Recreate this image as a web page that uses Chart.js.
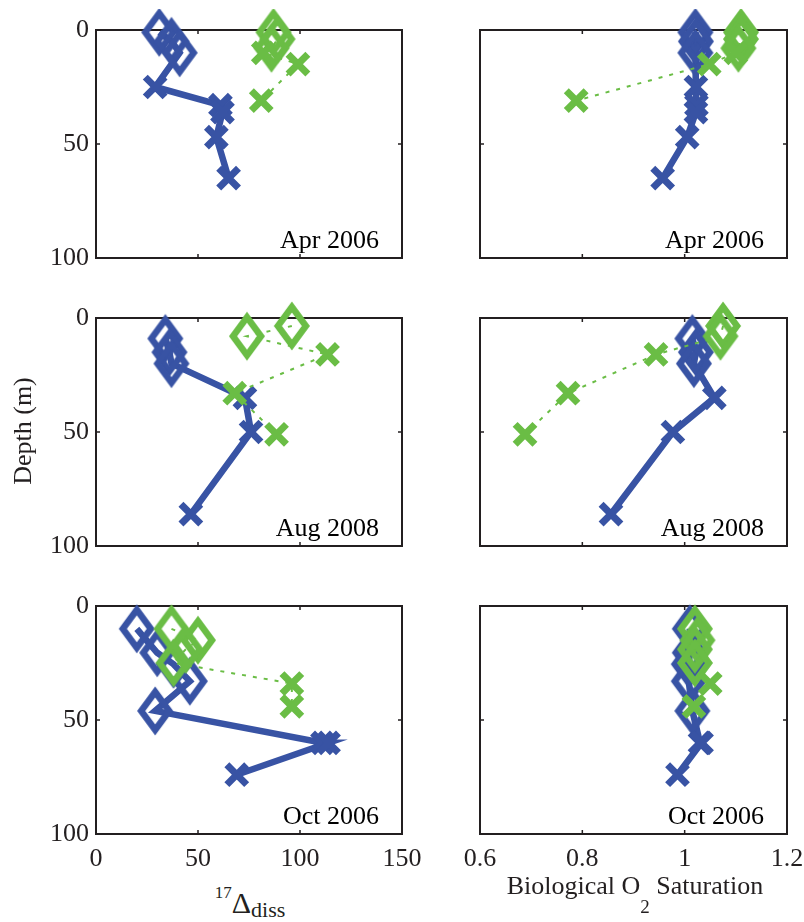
<!DOCTYPE html>
<html>
<head>
<meta charset="utf-8">
<script src="https://cdn.jsdelivr.net/npm/chart.js@4/dist/chart.umd.min.js"></script>
<style>
    body { margin: 0; width: 804px; height: 922px; overflow: hidden; position: relative; background: #fff; font-family: 'Liberation Serif', serif; color: #231f20; }
    canvas { position: absolute; }
    .lbl { position: absolute; white-space: nowrap; }
</style>
</head>
<body>
<canvas id="p0"></canvas>
<canvas id="p1"></canvas>
<canvas id="p2"></canvas>
<canvas id="p3"></canvas>
<canvas id="p4"></canvas>
<canvas id="p5"></canvas>

<div class="lbl" id="depthLabel" style="left:23px; top:431px; font-size:26px; transform: translate(-50%, -50%) rotate(-90deg);">Depth (m)</div>
<div class="lbl" style="left:150px; width:200px; text-align:center; top:888px; font-size:30px; line-height:30px;"><span style="font-size:17px; line-height:0; vertical-align:15px;">17</span>&Delta;<span style="font-size:22px; line-height:0; vertical-align:-4px;">diss</span></div>
<div class="lbl" style="left:435px; width:400px; text-align:center; top:873px; font-size:26px; line-height:26px;">Biological O<span style="font-size:19px; line-height:0; vertical-align:-19px;">2</span> Saturation</div>

<script>
// Axis ticks
const depthTicks = [0, 50, 100];
const d17Ticks = [0, 50, 100, 150];
const satTicks = [0.6, 0.8, 1, 1.2];
const months = ['Apr 2006', 'Aug 2008', 'Oct 2006'];

// Apr 2006 profiles (first n points are mixed-layer samples)
const aprBlueDepth = [1, 5, 10, 25, 33, 36, 47, 65];
const aprBlueD17 = [31, 37, 41, 29, 61, 62, 59, 65];
const aprBlueSat = [1.021, 1.022, 1.021, 1.022, 1.023, 1.022, 1.005, 0.957];
const aprBlueMixed = 3;
const aprGreenDepth = [1, 4, 8, 10, 15, 31];
const aprGreenD17 = [87, 89, 86, 82, 99, 81];
const aprGreenSat = [1.11, 1.11, 1.105, 1.10, 1.048, 0.788];
const aprGreenMixed = 3;

// Aug 2008 profiles
const augBlueDepth = [9, 15, 20, 35, 50, 86];
const augBlueD17 = [34, 36, 37, 73, 76, 46.5];
const augBlueSat = [1.015, 1.022, 1.018, 1.058, 0.977, 0.856];
const augBlueMixed = 3;
const augGreenDepth = [3.5, 8, 16, 33, 51];
const augGreenD17 = [96, 74, 113.5, 68, 88.5];
const augGreenSat = [1.075, 1.07, 0.944, 0.772, 0.688];
const augGreenMixed = 2;

// Oct 2006 profiles
const octBlueDepth = [10, 20.5, 25.5, 33, 46, 60, 60, 74];
const octBlueD17 = [20, 30, 38, 46, 29, 111, 114, 69];
const octBlueSat = [1.01, 1.01, 1.008, 1.008, 1.015, 1.03, 1.033, 0.986];
const octBlueMixed = 5;
const octGreenDepth = [10, 15, 19, 25, 34, 44];
const octGreenD17 = [37, 50, 44, 38, 96, 96];
const octGreenSat = [1.02, 1.025, 1.02, 1.02, 1.05, 1.018];
const octGreenMixed = 4;

// Layout
const plotLeft = [96, 480];
const plotWidth = [307, 308];
const plotTop = [29, 317, 605];
const plotHeight = 229;
const AXIS_W = 50, AXIS_H = 40, PAD = 20;

const BLUE = '#3853a4';
const GREEN = '#6abd45';
const INK = '#231f20';

Chart.defaults.font.family = "'Liberation Serif', serif";
Chart.defaults.font.size = 26;
Chart.defaults.color = INK;

// Tall hollow diamond marker
function diamondImage(color) {
    const c = document.createElement('canvas');
    c.width = 40;
    c.height = 54;
    const g = c.getContext('2d');
    g.strokeStyle = color;
    g.lineWidth = 6.5;
    g.lineJoin = 'miter';
    g.beginPath();
    g.moveTo(20, 8);
    g.lineTo(34, 27);
    g.lineTo(20, 46);
    g.lineTo(6, 27);
    g.closePath();
    g.stroke();
    return c;
}
const blueDiamond = diamondImage(BLUE);
const greenDiamond = diamondImage(GREEN);

// Box frame with inward ticks and the month label
const framePlugin = {
    id: 'frame',
    beforeDatasetsDraw(chart) {
        const { ctx, chartArea: a, scales } = chart;
        ctx.save();
        ctx.strokeStyle = INK;
        ctx.lineWidth = 2;
        ctx.strokeRect(a.left, a.top, a.right - a.left, a.bottom - a.top);
        ctx.lineWidth = 1.5;
        ctx.beginPath();
        scales.x.ticks.forEach(t => {
            const px = scales.x.getPixelForValue(t.value);
            if (px <= a.left + 2 || px >= a.right - 2) return;
            ctx.moveTo(px, a.bottom); ctx.lineTo(px, a.bottom - 4);
            ctx.moveTo(px, a.top); ctx.lineTo(px, a.top + 4);
        });
        scales.y.ticks.forEach(t => {
            const py = scales.y.getPixelForValue(t.value);
            if (py <= a.top + 2 || py >= a.bottom - 2) return;
            ctx.moveTo(a.left, py); ctx.lineTo(a.left + 4, py);
            ctx.moveTo(a.right, py); ctx.lineTo(a.right - 4, py);
        });
        ctx.stroke();
        ctx.restore();
    },
    afterDatasetsDraw(chart, args, opts) {
        const { ctx, chartArea: a } = chart;
        ctx.save();
        ctx.fillStyle = '#000';
        ctx.font = "26px 'Liberation Serif', serif";
        ctx.textAlign = 'right';
        ctx.textBaseline = 'alphabetic';
        ctx.fillText(opts.label, a.right - 23, a.bottom - 10);
        ctx.restore();
    }
};

function profile(depths, values, mixed, color, diamond, solid) {
    return {
        data: depths.map((d, i) => ({ x: values[i], y: d })),
        showLine: true,
        clip: false,
        borderColor: color,
        borderWidth: solid ? 6.5 : 2,
        borderDash: solid ? [] : [4, 7],
        borderJoinStyle: 'miter',
        pointStyle: ctx => ctx.dataIndex < mixed ? diamond : 'crossRot',
        pointRadius: 14,
        pointBorderWidth: 7,
        pointBorderColor: color,
        pointBackgroundColor: color
    };
}

function makePanel(id, col, row, blue, green) {
    const canvas = document.getElementById(id);
    const w = AXIS_W + plotWidth[col] + PAD;
    const h = PAD + plotHeight + AXIS_H;
    canvas.width = w;
    canvas.height = h;
    canvas.style.left = (plotLeft[col] - AXIS_W) + 'px';
    canvas.style.top = (plotTop[row] - PAD) + 'px';

    const xt = col === 0 ? d17Ticks : satTicks;
    new Chart(canvas, {
        type: 'scatter',
        data: {
            datasets: [
                profile(green[0], green[1], green[2], GREEN, greenDiamond, false),
                profile(blue[0], blue[1], blue[2], BLUE, blueDiamond, true)
            ]
        },
        options: {
            responsive: false,
            animation: false,
            layout: { padding: { top: PAD, right: PAD, left: 0, bottom: 0 } },
            plugins: {
                legend: { display: false },
                tooltip: { enabled: false },
                frame: { label: months[row] }
            },
            scales: {
                x: {
                    type: 'linear',
                    min: xt[0],
                    max: xt[xt.length - 1],
                    afterBuildTicks: s => { s.ticks = xt.map(v => ({ value: v })); },
                    grid: { display: false, drawTicks: false },
                    border: { display: false },
                    ticks: {
                        display: row === 2,
                        padding: 10,
                        color: INK,
                        callback: v => String(+Number(v).toFixed(1))
                    },
                    afterFit: s => {
                        s.height = AXIS_H;
                        s.paddingLeft = 0;
                        s.paddingRight = 0;
                    }
                },
                y: {
                    type: 'linear',
                    reverse: true,
                    min: depthTicks[0],
                    max: depthTicks[depthTicks.length - 1],
                    afterBuildTicks: s => { s.ticks = depthTicks.map(v => ({ value: v })); },
                    grid: { display: false, drawTicks: false },
                    border: { display: false },
                    ticks: { display: col === 0, padding: 7, color: INK },
                    afterFit: s => {
                        s.width = AXIS_W;
                        s.paddingTop = 0;
                        s.paddingBottom = 0;
                    }
                }
            }
        },
        plugins: [framePlugin]
    });
}

makePanel('p0', 0, 0, [aprBlueDepth, aprBlueD17, aprBlueMixed], [aprGreenDepth, aprGreenD17, aprGreenMixed]);
makePanel('p1', 1, 0, [aprBlueDepth, aprBlueSat, aprBlueMixed], [aprGreenDepth, aprGreenSat, aprGreenMixed]);
makePanel('p2', 0, 1, [augBlueDepth, augBlueD17, augBlueMixed], [augGreenDepth, augGreenD17, augGreenMixed]);
makePanel('p3', 1, 1, [augBlueDepth, augBlueSat, augBlueMixed], [augGreenDepth, augGreenSat, augGreenMixed]);
makePanel('p4', 0, 2, [octBlueDepth, octBlueD17, octBlueMixed], [octGreenDepth, octGreenD17, octGreenMixed]);
makePanel('p5', 1, 2, [octBlueDepth, octBlueSat, octBlueMixed], [octGreenDepth, octGreenSat, octGreenMixed]);
</script>
</body>
</html>
